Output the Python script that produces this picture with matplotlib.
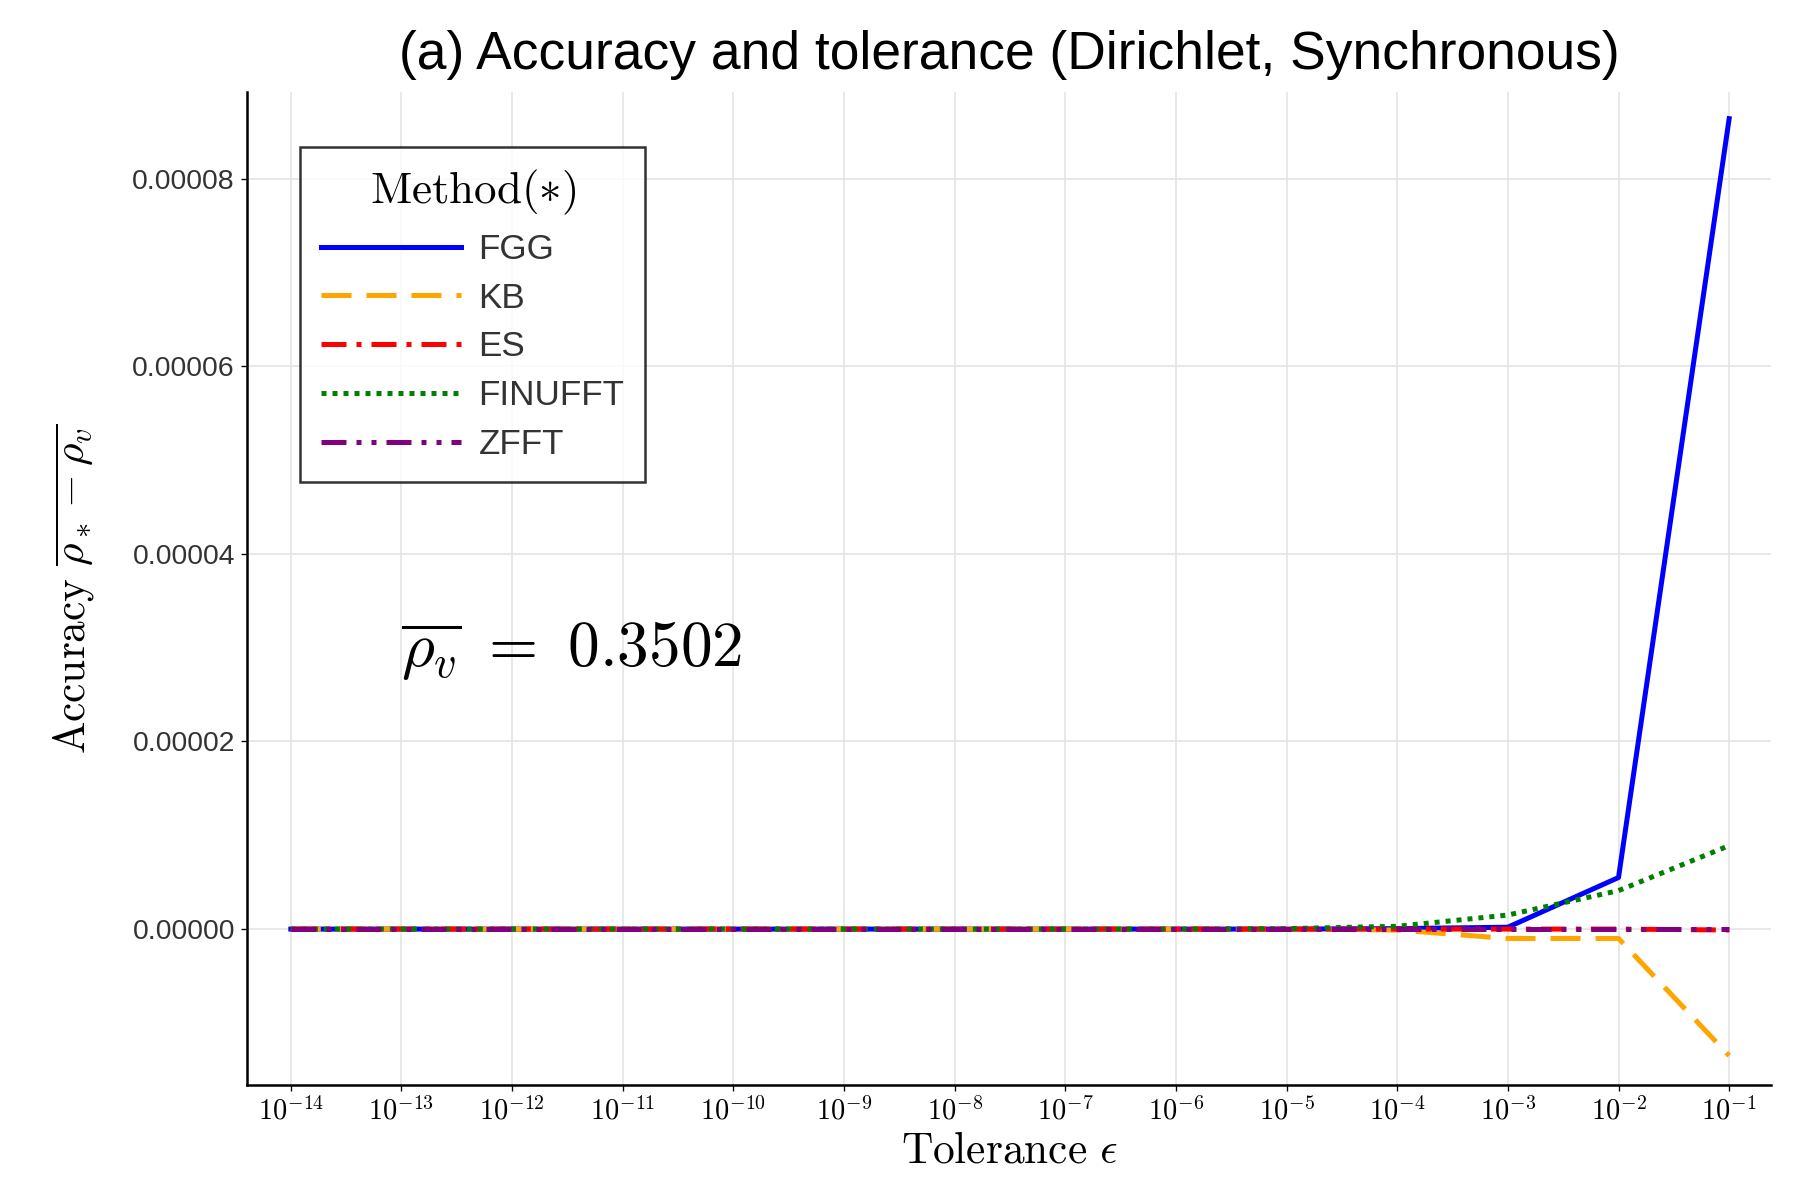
import numpy as np
import matplotlib
matplotlib.use("Agg")
import matplotlib.pyplot as plt

plt.rcParams['mathtext.fontset'] = 'cm'
plt.rcParams['font.family'] = ['Liberation Sans', 'DejaVu Sans']

tol = [10.0 ** k for k in range(-14, 0)]
# values in units of 1e-5, for tolerances 1e-14 ... 1e-1
fgg = [0]*10 + [0.005, 0.02, 0.55, 8.64]
kb = [0]*10 + [-0.01, -0.10, -0.10, -1.35]
es = [0]*10 + [0.0, 0.0, 0.0, -0.01]
finufft = [0]*9 + [0.005, 0.03, 0.15, 0.41, 0.89]
zfft = [0]*14

series = [
    ("FGG", fgg, dict(color='blue', ls='-')),
    ("KB", kb, dict(color='orange', ls=(0, (6, 3)))),
    ("ES", es, dict(color='red', ls=(0, (5, 2, 1, 2)))),
    ("FINUFFT", finufft, dict(color='green', ls=(0, (1, 1.2)))),
    ("ZFFT", zfft, dict(color='purple', ls=(0, (5, 2, 1, 2, 1, 2)))),
]

fig = plt.figure(figsize=(15, 10), dpi=120)
ax = fig.add_axes([0.137, 0.096, 0.847, 0.827])
for name, vals, st in series:
    ax.plot(tol, np.array(vals) * 1e-5, label=name, lw=3.0, **st)

ax.set_xscale('log')
ax.set_xlim(10 ** -14.4, 10 ** -0.62)
ax.set_ylim(-1.66e-5, 8.92e-5)
ax.set_xticks(tol)
ax.set_xticklabels([r"$10^{%d}$" % k for k in range(-14, 0)], fontsize=17)
ax.minorticks_off()
ax.set_yticks([0, 2e-5, 4e-5, 6e-5, 8e-5])
ax.set_yticklabels(["0.00000", "0.00002", "0.00004", "0.00006", "0.00008"], fontsize=17, color='#333333')
ax.grid(True, color='#e4e4e4', lw=1)
for s in ['top', 'right']:
    ax.spines[s].set_visible(False)
ax.spines['left'].set_linewidth(1.5)
ax.spines['bottom'].set_linewidth(1.5)

ax.set_xlabel(r"$\mathrm{Tolerance}\ \epsilon$", fontsize=26)
ax.set_ylabel(r"$\mathrm{Accuracy}\ \overline{\rho_* - \rho_v}$", fontsize=26, labelpad=22)
ax.set_title("(a) Accuracy and tolerance (Dirichlet, Synchronous)", fontsize=32, pad=14)

ax.text(1e-13, 2.8e-5, r"$\overline{\rho_v}\ =\ 0.3502$", fontsize=38)

leg = ax.legend(loc='upper left', bbox_to_anchor=(0.035, 0.945), title=r"$\mathrm{Method}(*)$",
                fontsize=21, title_fontsize=27, fancybox=False, edgecolor='black',
                handlelength=4, borderpad=0.6, labelspacing=0.45, borderaxespad=0,
                handletextpad=0.5)
leg.get_frame().set_linewidth(1.5)
for t in leg.get_texts():
    t.set_color('#333333')

fig.savefig("out.png", dpi=120)
